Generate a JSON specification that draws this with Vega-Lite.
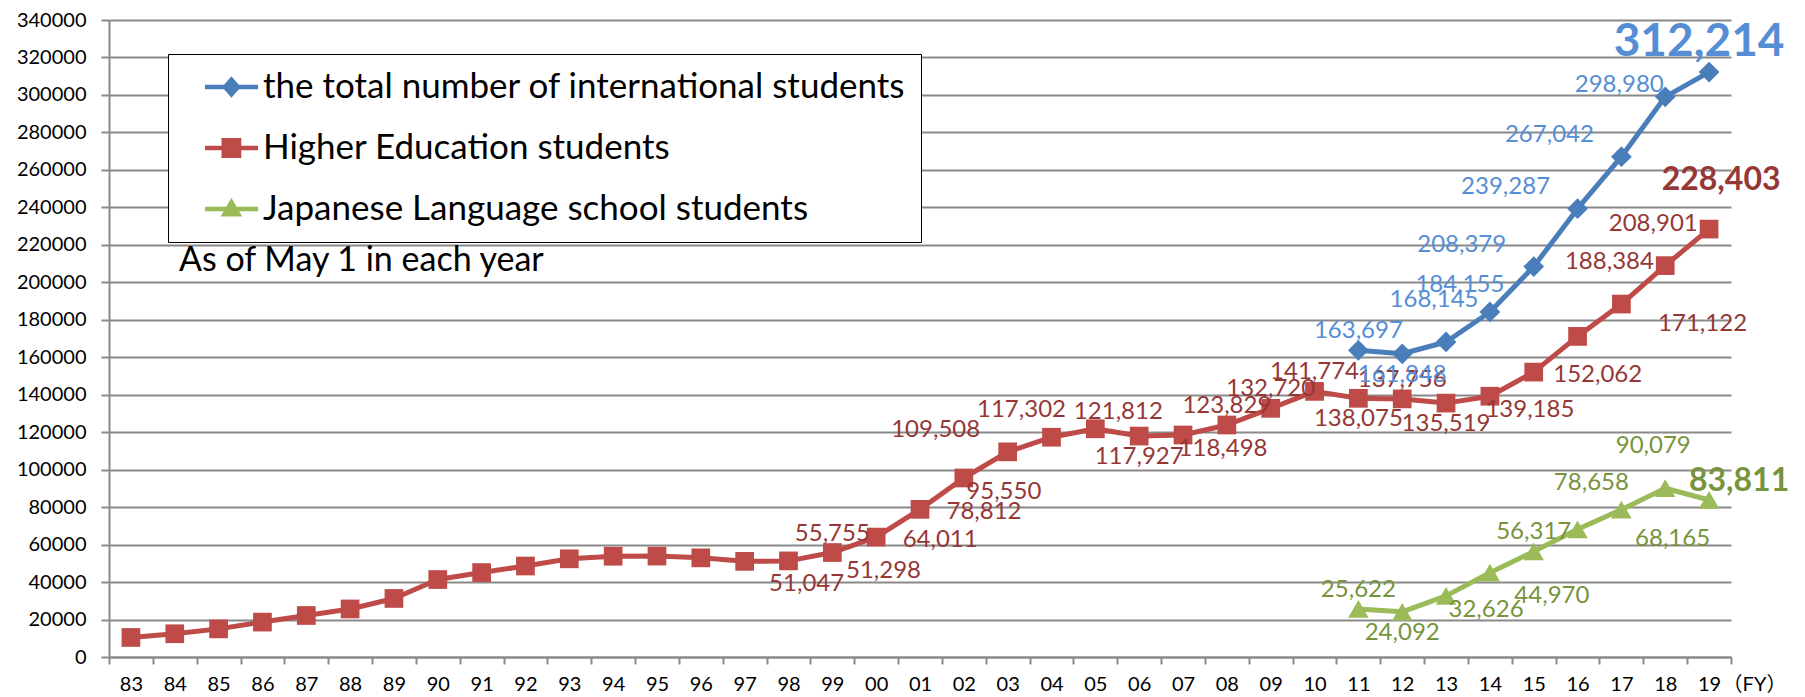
{
  "$schema": "https://vega.github.io/schema/vega-lite/v6.json",
  "width": 1622,
  "height": 637,
  "autosize": {"type": "none"},
  "padding": {"left": 109, "top": 20, "right": 74, "bottom": 40},
  "background": "white",
  "config": {"view": {"stroke": null}, "font": "Lato"},
  "title": {
    "text": "As of May 1 in each year",
    "anchor": "start",
    "frame": "group",
    "orient": "top",
    "offset": 0,
    "dx": 70,
    "dy": 285,
    "baseline": "middle",
    "font": "Lato",
    "fontSize": 34,
    "fontWeight": "normal",
    "color": "#000000"
  },
  "data": {
    "values": [
      {"year": "83", "series": "Higher Education students", "value": 10428},
      {"year": "84", "series": "Higher Education students", "value": 12410},
      {"year": "85", "series": "Higher Education students", "value": 15009},
      {"year": "86", "series": "Higher Education students", "value": 18631},
      {"year": "87", "series": "Higher Education students", "value": 22154},
      {"year": "88", "series": "Higher Education students", "value": 25643},
      {"year": "89", "series": "Higher Education students", "value": 31251},
      {"year": "90", "series": "Higher Education students", "value": 41347},
      {"year": "91", "series": "Higher Education students", "value": 45066},
      {"year": "92", "series": "Higher Education students", "value": 48561},
      {"year": "93", "series": "Higher Education students", "value": 52405},
      {"year": "94", "series": "Higher Education students", "value": 53787},
      {"year": "95", "series": "Higher Education students", "value": 53847},
      {"year": "96", "series": "Higher Education students", "value": 52921},
      {"year": "97", "series": "Higher Education students", "value": 51047, "pos": "SE2"},
      {"year": "98", "series": "Higher Education students", "value": 51298, "pos": "E2"},
      {"year": "99", "series": "Higher Education students", "value": 55755, "pos": "N"},
      {"year": "00", "series": "Higher Education students", "value": 64011, "pos": "E"},
      {"year": "01", "series": "Higher Education students", "value": 78812, "pos": "E"},
      {"year": "02", "series": "Higher Education students", "value": 95550, "pos": "SE"},
      {"year": "03", "series": "Higher Education students", "value": 109508, "pos": "W"},
      {"year": "04", "series": "Higher Education students", "value": 117302, "pos": "NW"},
      {"year": "05", "series": "Higher Education students", "value": 121812, "pos": "NE"},
      {"year": "06", "series": "Higher Education students", "value": 117927, "pos": "S"},
      {"year": "07", "series": "Higher Education students", "value": 118498, "pos": "SE"},
      {"year": "08", "series": "Higher Education students", "value": 123829, "pos": "N"},
      {"year": "09", "series": "Higher Education students", "value": 132720, "pos": "N"},
      {"year": "10", "series": "Higher Education students", "value": 141774, "pos": "N"},
      {"year": "11", "series": "Higher Education students", "value": 138075, "pos": "S"},
      {"year": "12", "series": "Higher Education students", "value": 137756, "pos": "N"},
      {"year": "13", "series": "Higher Education students", "value": 135519, "pos": "S"},
      {"year": "14", "series": "Higher Education students", "value": 139185, "pos": "SE"},
      {"year": "15", "series": "Higher Education students", "value": 152062, "pos": "E"},
      {"year": "16", "series": "Higher Education students", "value": 171122, "pos": "E3"},
      {"year": "17", "series": "Higher Education students", "value": 188384, "pos": "NN"},
      {"year": "18", "series": "Higher Education students", "value": 208901, "pos": "NN"},
      {"year": "19", "series": "Higher Education students", "value": 228403},
      {"year": "11", "series": "the total number of international students", "value": 163697, "pos": "N"},
      {"year": "12", "series": "the total number of international students", "value": 161848, "pos": "S"},
      {"year": "13", "series": "the total number of international students", "value": 168145, "pos": "NN"},
      {"year": "14", "series": "the total number of international students", "value": 184155, "pos": "NW"},
      {"year": "15", "series": "the total number of international students", "value": 208379, "pos": "W"},
      {"year": "16", "series": "the total number of international students", "value": 239287, "pos": "W"},
      {"year": "17", "series": "the total number of international students", "value": 267042, "pos": "W"},
      {"year": "18", "series": "the total number of international students", "value": 298980, "pos": "W2"},
      {"year": "19", "series": "the total number of international students", "value": 312214},
      {"year": "11", "series": "Japanese Language school students", "value": 25622, "pos": "N"},
      {"year": "12", "series": "Japanese Language school students", "value": 24092, "pos": "S"},
      {"year": "13", "series": "Japanese Language school students", "value": 32626, "pos": "SE"},
      {"year": "14", "series": "Japanese Language school students", "value": 44970, "pos": "SE2"},
      {"year": "15", "series": "Japanese Language school students", "value": 56317, "pos": "N"},
      {"year": "16", "series": "Japanese Language school students", "value": 68165, "pos": "E2"},
      {"year": "17", "series": "Japanese Language school students", "value": 78658, "pos": "NW"},
      {"year": "18", "series": "Japanese Language school students", "value": 90079, "pos": "NN"},
      {"year": "19", "series": "Japanese Language school students", "value": 83811}
    ]
  },
  "encoding": {
    "x": {
      "field": "year",
      "type": "nominal",
      "scale": {
        "domain": ["83","84","85","86","87","88","89","90","91","92","93","94","95","96","97","98","99","00","01","02","03","04","05","06","07","08","09","10","11","12","13","14","15","16","17","18","19"],
        "paddingInner": 0,
        "paddingOuter": 0
      },
      "axis": {
        "title": "（FY）",
        "titleX": 1645,
        "titleY": 27,
        "titleBaseline": "middle",
        "titleAlign": "center",
        "titleFont": "Lato, Noto Sans CJK JP",
        "titleFontSize": 20,
        "titleFontWeight": "normal",
        "titleColor": "#000000",
        "labelAngle": 0,
        "tickBand": "extent",
        "tickSize": 7,
        "tickWidth": 2,
        "tickColor": "#898989",
        "domainColor": "#898989",
        "domainWidth": 2,
        "labelPadding": 20,
        "labelBaseline": "middle",
        "labelFont": "Lato",
        "labelFontSize": 20,
        "labelColor": "#000000",
        "grid": false
      }
    },
    "y": {
      "field": "value",
      "type": "quantitative",
      "scale": {"domain": [0, 340000], "nice": false},
      "axis": {
        "title": null,
        "values": [0,20000,40000,60000,80000,100000,120000,140000,160000,180000,200000,220000,240000,260000,280000,300000,320000,340000],
        "format": "d",
        "grid": true,
        "gridColor": "#898989",
        "gridWidth": 2,
        "domainColor": "#898989",
        "domainWidth": 2,
        "tickColor": "#898989",
        "tickWidth": 2,
        "tickSize": 8,
        "labelPadding": 15,
        "labelFont": "Lato",
        "labelFontSize": 20,
        "labelColor": "#000000"
      }
    }
  },
  "layer": [
    {
      "mark": {"type": "line", "strokeWidth": 5, "strokeJoin": "round"},
      "encoding": {
        "color": {
          "field": "series",
          "type": "nominal",
          "scale": {
            "domain": ["the total number of international students", "Higher Education students", "Japanese Language school students"],
            "range": ["#4A7EBB", "#BE4B48", "#9BBB59"]
          },
          "legend": {
            "title": null,
            "orient": "none",
            "legendX": 59,
            "legendY": 34,
            "padding": 15,
            "rowPadding": 25,
            "symbolSize": 1296,
            "labelOffset": 44,
            "labelFont": "Lato",
            "labelFontSize": 35,
            "labelColor": "#000000",
            "labelLimit": 0,
            "strokeColor": "#000000",
            "fillColor": "#ffffff",
            "encode": {
              "symbols": {
                "update": {
                  "shape": {"signal": "datum.value === 'the total number of international students' ? 'M0.22,-0.13H3.17V0.13H0.22Z M1.69,-0.6L2.21,0L1.69,0.6L1.17,0Z' : datum.value === 'Higher Education students' ? 'M0.22,-0.13H3.17V0.13H0.22Z M1.14,-0.55H2.24V0.55H1.14Z' : 'M0.22,-0.13H3.17V0.13H0.22Z M1.69,-0.62L2.29,0.42L1.09,0.42Z'"},
                  "fill": {"signal": "scale('color', datum.value)"},
                  "stroke": {"value": "transparent"},
                  "strokeWidth": {"value": 0},
                  "opacity": {"value": 1}
                }
              }
            }
          }
        }
      }
    },
    {
      "transform": [{"filter": "datum.series === 'the total number of international students'"}],
      "mark": {"type": "point", "shape": "diamond", "filled": true, "opacity": 1, "strokeWidth": 0, "size": 430},
      "encoding": {"color": {"field": "series", "type": "nominal", "legend": null}}
    },
    {
      "transform": [{"filter": "datum.series === 'Higher Education students'"}],
      "mark": {"type": "point", "shape": "square", "filled": true, "opacity": 1, "strokeWidth": 0, "size": 350},
      "encoding": {"color": {"field": "series", "type": "nominal", "legend": null}}
    },
    {
      "transform": [{"filter": "datum.series === 'Japanese Language school students'"}],
      "mark": {"type": "point", "shape": "triangle-up", "filled": true, "opacity": 1, "strokeWidth": 0, "size": 420},
      "encoding": {"color": {"field": "series", "type": "nominal", "legend": null}}
    },
    {
      "encoding": {
        "text": {"field": "value", "type": "quantitative", "format": ","},
        "fill": {
          "field": "series",
          "type": "nominal",
          "scale": {
            "domain": ["the total number of international students", "Higher Education students", "Japanese Language school students"],
            "range": ["#558ED5", "#953735", "#77933C"]
          },
          "legend": null
        }
      },
      "layer": [
        {"transform": [{"filter": "datum.pos === 'N'"}], "mark": {"type": "text", "font": "Lato", "fontSize": 24, "align": "center", "baseline": "middle", "dx": 0, "dy": -19}},
        {"transform": [{"filter": "datum.pos === 'NN'"}], "mark": {"type": "text", "font": "Lato", "fontSize": 24, "align": "center", "baseline": "middle", "dx": -12, "dy": -42}},
        {"transform": [{"filter": "datum.pos === 'S'"}], "mark": {"type": "text", "font": "Lato", "fontSize": 24, "align": "center", "baseline": "middle", "dx": 0, "dy": 21}},
        {"transform": [{"filter": "datum.pos === 'E'"}], "mark": {"type": "text", "font": "Lato", "fontSize": 24, "align": "center", "baseline": "middle", "dx": 64, "dy": 3}},
        {"transform": [{"filter": "datum.pos === 'E2'"}], "mark": {"type": "text", "font": "Lato", "fontSize": 24, "align": "center", "baseline": "middle", "dx": 95, "dy": 10}},
        {"transform": [{"filter": "datum.pos === 'E3'"}], "mark": {"type": "text", "font": "Lato", "fontSize": 24, "align": "center", "baseline": "middle", "dx": 125, "dy": -12}},
        {"transform": [{"filter": "datum.pos === 'W'"}], "mark": {"type": "text", "font": "Lato", "fontSize": 24, "align": "center", "baseline": "middle", "dx": -72, "dy": -22}},
        {"transform": [{"filter": "datum.pos === 'W2'"}], "mark": {"type": "text", "font": "Lato", "fontSize": 24, "align": "center", "baseline": "middle", "dx": -46, "dy": -12}},
        {"transform": [{"filter": "datum.pos === 'NW'"}], "mark": {"type": "text", "font": "Lato", "fontSize": 24, "align": "center", "baseline": "middle", "dx": -30, "dy": -27}},
        {"transform": [{"filter": "datum.pos === 'NE'"}], "mark": {"type": "text", "font": "Lato", "fontSize": 24, "align": "center", "baseline": "middle", "dx": 23, "dy": -17}},
        {"transform": [{"filter": "datum.pos === 'SE'"}], "mark": {"type": "text", "font": "Lato", "fontSize": 24, "align": "center", "baseline": "middle", "dx": 40, "dy": 14}},
        {"transform": [{"filter": "datum.pos === 'SE2'"}], "mark": {"type": "text", "font": "Lato", "fontSize": 24, "align": "center", "baseline": "middle", "dx": 62, "dy": 23}},
        {"transform": [{"filter": "datum.year === '19' && datum.series === 'the total number of international students'"}], "mark": {"type": "text", "font": "Lato", "fontSize": 46, "fontWeight": "bold", "align": "center", "baseline": "middle", "dx": -10, "dy": -30}},
        {"transform": [{"filter": "datum.year === '19' && datum.series === 'Higher Education students'"}], "mark": {"type": "text", "font": "Lato", "fontSize": 32, "fontWeight": "bold", "align": "center", "baseline": "middle", "dx": 12, "dy": -49}},
        {"transform": [{"filter": "datum.year === '19' && datum.series === 'Japanese Language school students'"}], "mark": {"type": "text", "font": "Lato", "fontSize": 32, "fontWeight": "bold", "align": "center", "baseline": "middle", "dx": 30, "dy": -19}}
      ]
    }
  ]
}
